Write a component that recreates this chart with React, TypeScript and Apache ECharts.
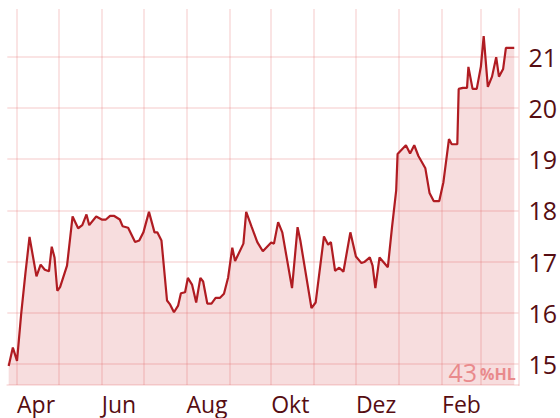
import React, { useEffect, useRef } from "react";
import * as echarts from "echarts";

const axisStart = "2022-03-25";
const axisEnd = "2023-03-28";
const monthNames = ["Jan", "Feb", "Mär", "Apr", "Mai", "Jun", "Jul", "Aug", "Sep", "Okt", "Nov", "Dez"];
const labelMonths = [4, 6, 8, 10, 12, 2];
const hlValue = "43";
const hlUnit = "%HL";

const priceDates = [
  "2022-03-26", "2022-03-29", "2022-04-01", "2022-04-04", "2022-04-07", "2022-04-10", "2022-04-15",
  "2022-04-18", "2022-04-21", "2022-04-24", "2022-04-26", "2022-04-28", "2022-04-30", "2022-05-02",
  "2022-05-07", "2022-05-11", "2022-05-15", "2022-05-18", "2022-05-21", "2022-05-23", "2022-05-28",
  "2022-06-01", "2022-06-04", "2022-06-07", "2022-06-10", "2022-06-14", "2022-06-16", "2022-06-20",
  "2022-06-25", "2022-06-28", "2022-07-01", "2022-07-05", "2022-07-09", "2022-07-11", "2022-07-14",
  "2022-07-18", "2022-07-20", "2022-07-23", "2022-07-26", "2022-07-28", "2022-07-31", "2022-08-02",
  "2022-08-05", "2022-08-08", "2022-08-11", "2022-08-13", "2022-08-16", "2022-08-19", "2022-08-22",
  "2022-08-25", "2022-08-28", "2022-08-31", "2022-09-03", "2022-09-05", "2022-09-11", "2022-09-13",
  "2022-09-17", "2022-09-21", "2022-09-25", "2022-10-01", "2022-10-03", "2022-10-06", "2022-10-09",
  "2022-10-16", "2022-10-20", "2022-10-22", "2022-10-30", "2022-11-02", "2022-11-08", "2022-11-11",
  "2022-11-13", "2022-11-16", "2022-11-19", "2022-11-22", "2022-11-27", "2022-12-01", "2022-12-05",
  "2022-12-07", "2022-12-11", "2022-12-13", "2022-12-15", "2022-12-18", "2022-12-24", "2022-12-27",
  "2022-12-30", "2022-12-31", "2023-01-06", "2023-01-09", "2023-01-12", "2023-01-15", "2023-01-20",
  "2023-01-23", "2023-01-26", "2023-01-30", "2023-02-02", "2023-02-06", "2023-02-08", "2023-02-12",
  "2023-02-13", "2023-02-16", "2023-02-19", "2023-02-20", "2023-02-23", "2023-02-26", "2023-03-01",
  "2023-03-03", "2023-03-06", "2023-03-09", "2023-03-12", "2023-03-14", "2023-03-17", "2023-03-19",
  "2023-03-25",
];

const priceValues = [
  14.96, 15.32, 15.06, 15.98, 16.76, 17.48, 16.71,
  16.94, 16.84, 16.81, 17.29, 17.08, 16.43, 16.5,
  16.92, 17.88, 17.65, 17.71, 17.92, 17.71, 17.88,
  17.82, 17.82, 17.89, 17.89, 17.82, 17.69, 17.66,
  17.38, 17.41, 17.57, 17.97, 17.57, 17.57, 17.41,
  16.24, 16.17, 16.01, 16.14, 16.38, 16.4, 16.68,
  16.55, 16.2, 16.68, 16.61, 16.18, 16.18, 16.29,
  16.29, 16.37, 16.69, 17.27, 17.01, 17.35, 17.97,
  17.67, 17.38, 17.2, 17.37, 17.35, 17.77, 17.57,
  16.48, 17.67, 17.41, 16.09, 16.2, 17.49, 17.33,
  17.38, 16.82, 16.88, 16.8, 17.57, 17.1, 16.97,
  16.99, 17.08, 16.92, 16.48, 17.08, 16.89, 17.67,
  18.39, 19.1, 19.27, 19.11, 19.27, 19.06, 18.82,
  18.34, 18.18, 18.18, 18.55, 19.39, 19.29, 19.29,
  20.37, 20.39, 20.39, 20.8, 20.37, 20.37, 20.81,
  21.4, 20.41, 20.61, 20.99, 20.61, 20.76, 21.17,
  21.17,
];

const pad = (n: number) => (n < 10 ? "0" + n : "" + n);

function buildDays(start: string, end: string): string[] {
  const out: string[] = [];
  const [sy, sm, sd] = start.split("-").map(Number);
  const [ey, em, ed] = end.split("-").map(Number);
  const d = new Date(Date.UTC(sy, sm - 1, sd));
  const e = Date.UTC(ey, em - 1, ed);
  while (d.getTime() <= e) {
    out.push(d.getUTCFullYear() + "-" + pad(d.getUTCMonth() + 1) + "-" + pad(d.getUTCDate()));
    d.setUTCDate(d.getUTCDate() + 1);
  }
  return out;
}

const GRID_COLOR = "rgba(230,120,120,0.2)";
const LABEL_COLOR = "#560d12";
const FONT = "'Open Sans', 'Noto Sans', sans-serif";

export default function App() {
  const ref = useRef<HTMLDivElement>(null);

  useEffect(() => {
    if (!ref.current) return;
    const chart = echarts.init(ref.current, undefined, { renderer: "svg" });
    const days = buildDays(axisStart, axisEnd);
    const isMonthStart = (_i: number, v: string) => typeof v === "string" && v.slice(8) === "01";

    chart.setOption({
      animation: false,
      grid: { left: 7.3, right: 40.5, top: 9, bottom: 33, containLabel: false },
      xAxis: [
        {
          type: "category",
          data: days,
          boundaryGap: false,
          axisLine: { show: true, lineStyle: { color: GRID_COLOR, width: 2 } },
          axisTick: { show: false },
          splitLine: {
            show: true,
            interval: isMonthStart,
            lineStyle: { color: GRID_COLOR, width: 2 },
          },
          axisLabel: {
            interval: (_i: number, v: string) =>
              isMonthStart(_i, v) && labelMonths.indexOf(Number(v.slice(5, 7))) >= 0,
            formatter: (v: string) => monthNames[Number(v.slice(5, 7)) - 1],
            align: "left",
            margin: 7,
            fontSize: 23,
            fontFamily: FONT,
            color: LABEL_COLOR,
          },
        },
        {
          type: "time",
          show: false,
          min: axisStart,
          max: axisEnd,
        },
      ],
      yAxis: {
        type: "value",
        position: "right",
        min: 14.59,
        max: 21.93,
        splitNumber: 7,
        axisLine: { show: true, lineStyle: { color: GRID_COLOR, width: 2 } },
        axisTick: { show: false },
        splitLine: {
          show: true,
          showMinLine: false,
          showMaxLine: false,
          lineStyle: { color: GRID_COLOR, width: 2 },
        },
        axisLabel: {
          showMinLabel: false,
          showMaxLabel: false,
          margin: 10,
          fontSize: 25,
          fontFamily: FONT,
          color: LABEL_COLOR,
        },
      },
      series: [
        {
          type: "line",
          xAxisIndex: 1,
          data: priceDates.map((d, i) => [d, priceValues[i]]),
          showSymbol: false,
          symbol: "none",
          lineStyle: { color: "#b01c22", width: 2.2 },
          areaStyle: { color: "rgba(212,62,66,0.25)", origin: "start" },
        },
      ],
      graphic: [
        {
          type: "text",
          x: 477,
          y: 372,
          z: 10,
          style: {
            text: hlValue,
            fill: "#e98a8c",
            fontSize: 25,
            fontFamily: FONT,
            align: "right",
            verticalAlign: "middle",
          },
        },
        {
          type: "text",
          x: 480,
          y: 374,
          z: 10,
          style: {
            text: hlUnit,
            fill: "#e98a8c",
            fontSize: 16,
            fontWeight: "bold",
            fontFamily: FONT,
            align: "left",
            verticalAlign: "middle",
          },
        },
      ],
    });

    return () => chart.dispose();
  }, []);

  return (
    <div
      ref={ref}
      style={{ position: "fixed", left: 0, top: 0, width: 560, height: 418, background: "#fff" }}
    />
  );
}
